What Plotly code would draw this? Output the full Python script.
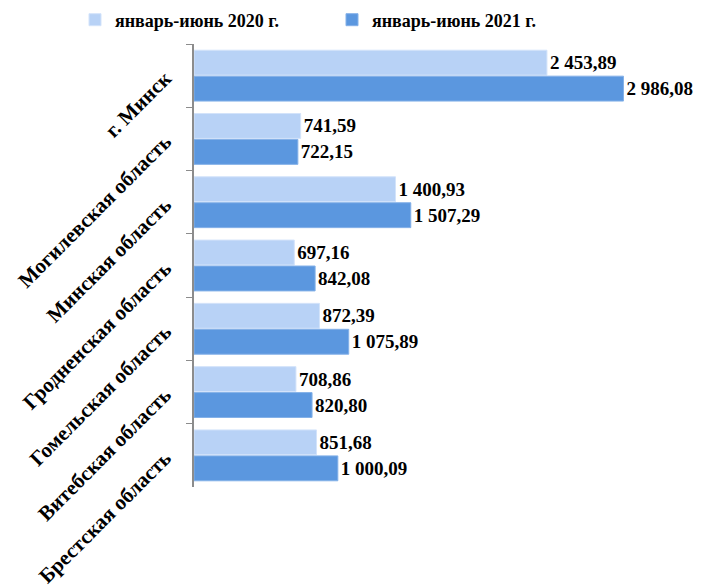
import plotly.graph_objects as go

categories = ["г. Минск", "Могилевская область", "Минская область", "Гродненская область",
              "Гомельская область", "Витебская область", "Брестская область"]
series_names = ["январь-июнь 2020 г.", "январь-июнь 2021 г."]
values_2020 = [2453.89, 741.59, 1400.93, 697.16, 872.39, 708.86, 851.68]
values_2021 = [2986.08, 722.15, 1507.29, 842.08, 1075.89, 820.80, 1000.09]


def fmt(v):
    s = f"{v:,.2f}"
    return s.replace(",", " ").replace(".", ",")


FONT = "Liberation Serif, Times New Roman, serif"
colors = ["#B8D2F6", "#5B97DF"]
edges = ["#D3E3FA", "#84B1E8"]
legends = ["legend", "legend2"]

# page body has an 8px default margin; figure is sized so it ends at the window edge
W, H = 694, 577

fig = go.Figure()
for name, vals, c, e, lg in zip(series_names, [values_2020, values_2021], colors, edges, legends):
    fig.add_trace(go.Bar(
        y=categories, x=vals, orientation="h", name=name, legend=lg,
        marker=dict(color=c, line=dict(color=e, width=1)),
        text=[fmt(v) for v in vals], textposition="outside",
        textfont=dict(family=FONT, size=19, color="black", weight="bold"),
        constraintext="none", cliponaxis=False,
    ))

leg_common = dict(orientation="h", xref="container", yref="container",
                  xanchor="left", y=1 - 12 / H, yanchor="middle",
                  font=dict(family=FONT, size=18, weight="bold"),
                  bgcolor="rgba(0,0,0,0)")
fig.update_layout(
    width=W, height=H,
    margin=dict(l=186, r=19, t=36, b=98, autoexpand=False),
    paper_bgcolor="white", plot_bgcolor="white",
    barmode="group", bargap=0.18, bargroupgap=0.04,
    font=dict(family=FONT, color="black"),
    legend=dict(x=67 / W, **leg_common),
    legend2=dict(x=324 / W, **leg_common),
    showlegend=True,
)
fig.update_xaxes(range=[0, 3400], visible=False, showgrid=False)
fig.update_yaxes(range=[6.5, -0.5], tickangle=-45, tickson="boundaries",
                 ticks="outside", ticklen=6, tickcolor="#8C8C8C",
                 showline=True, linecolor="#8C8C8C", linewidth=1.5,
                 tickfont=dict(family=FONT, size=21, weight="bold", color="black"),
                 automargin=False, ticklabelstandoff=23)

fig.write_html("out.html")
